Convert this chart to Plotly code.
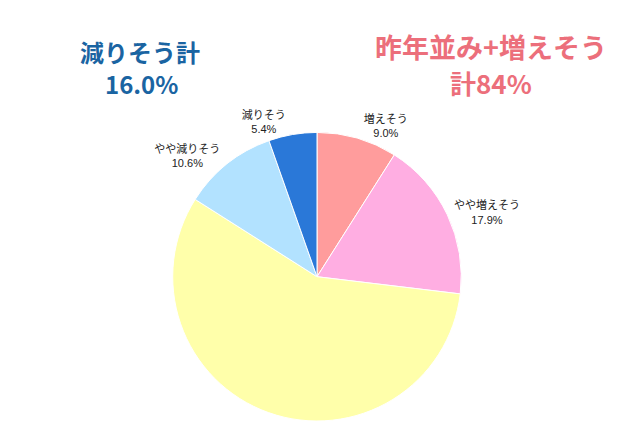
import plotly.graph_objects as go

categories = ["増えそう", "やや増えそう", "昨年並み", "やや減りそう", "減りそう"]
values = [9.0, 17.9, 57.1, 10.6, 5.4]
show_label = [True, True, False, True, True]
colors = ["#ff9c9c", "#ffaee2", "#ffffaa", "#b2e2ff", "#2a78d8"]

texts = [f"{c}<br>{v:.1f}%" if s else "" for c, v, s in zip(categories, values, show_label)]

W, H = 640, 426
cx, cy, r = 317, 280, 146

fig = go.Figure(go.Pie(
    labels=categories,
    values=values,
    text=texts,
    textinfo="text",
    textposition="outside",
    sort=False,
    direction="clockwise",
    rotation=0,
    marker=dict(colors=colors, line=dict(color="white", width=1)),
    textfont=dict(family="Liberation Sans, Noto Sans CJK JP", size=11, color="#222222"),
    domain=dict(x=[(cx - r) / W, (cx + r) / W], y=[max(0, (H - cy - r) / H), (H - cy + r) / H]),
    hoverinfo="label+percent",
))

def title(txt, x, y, size, color):
    fig.add_annotation(
        text=f"<b>{txt}</b>", x=x / W, y=1 - y / H, xref="paper", yref="paper",
        showarrow=False, align="center", xanchor="center", yanchor="middle",
        font=dict(family="Noto Sans CJK JP", size=size, color=color),
    )

blue = "#1a64a2"
pink = "#ec6f7b"
title("減りそう計", 140, 52, 24, blue)
title("16.0%", 141, 84, 24, blue)
title("昨年並み+増えそう", 491, 47, 27, pink)
title("計84%", 491, 83, 26, pink)

fig.update_layout(
    width=W, height=H,
    margin=dict(l=0, r=0, t=0, b=0),
    paper_bgcolor="white", plot_bgcolor="white",
    showlegend=False,
)

fig.write_html("out.html")
